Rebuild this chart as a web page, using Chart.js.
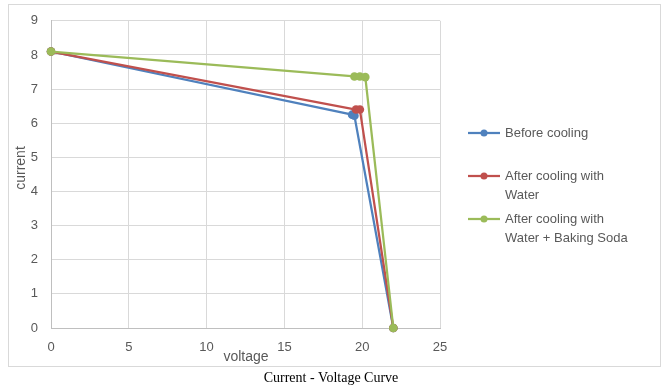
<!DOCTYPE html>
<html>
<head>
<meta charset="utf-8">
<script src="https://cdn.jsdelivr.net/npm/chart.js@4.4.1/dist/chart.umd.min.js"></script>
<style>
  html, body { margin: 0; padding: 0; background: #fff; }
  #wrap { position: relative; width: 667px; height: 391px; }
</style>
</head>
<body>
<div id="wrap"><canvas id="chartIV" width="667" height="391"></canvas></div>
<script>
// datos
const seriesNames = ['Before cooling', 'After cooling with\nWater', 'After cooling with\nWater + Baking Soda'];
const beforeX = [0, 19.35, 19.5, 22];
const beforeY = [8.1, 6.25, 6.22, 0];
const waterX = [0, 19.6, 19.85, 22];
const waterY = [8.1, 6.4, 6.4, 0];
const sodaX = [0, 19.5, 19.85, 20.2, 22];
const sodaY = [8.1, 7.37, 7.37, 7.35, 0];
const colores = ['#4F81BD', '#C0504D', '#9BBB59'];
const xTicks = [0, 5, 10, 15, 20, 25];
const yTicks = [0, 1, 2, 3, 4, 5, 6, 7, 8, 9];

const chartTitle = 'Current - Voltage Curve';
const xTitle = 'voltage';
const yTitle = 'current';

function puntos(xs, ys) {
    return xs.map((x, i) => ({ x: x, y: ys[i] }));
}

// la ultima serie queda encima, como en Excel
const datasets = [[beforeX, beforeY], [waterX, waterY], [sodaX, sodaY]].map((s, i) => ({
    label: seriesNames[i],
    data: puntos(s[0], s[1]),
    borderColor: colores[i],
    backgroundColor: colores[i],
    borderWidth: 2.25,
    pointRadius: 4.3,
    pointBorderWidth: 0,
    showLine: true,
    tension: 0,
    clip: false,
    order: 3 - i
}));

// marco, titulos y leyenda dibujados a mano
const decoracion = {
    id: 'decoracion',
    beforeDraw(chart) {
        const ctx = chart.ctx;
        ctx.save();
        ctx.fillStyle = '#fff';
        ctx.fillRect(0, 0, chart.width, chart.height);
        ctx.strokeStyle = '#d9d9d9';
        ctx.lineWidth = 1;
        ctx.strokeRect(8.5, 4.5, 652, 362);
        ctx.restore();
    },
    afterDraw(chart) {
        const ctx = chart.ctx;
        ctx.save();
        ctx.fillStyle = '#595959';
        ctx.font = '14px "Liberation Sans", Arial, sans-serif';
        ctx.textAlign = 'center';
        ctx.textBaseline = 'middle';
        ctx.fillText(xTitle, 246, 357);
        ctx.translate(21, 168);
        ctx.rotate(-Math.PI / 2);
        ctx.fillText(yTitle, 0, 0);
        ctx.restore();

        ctx.save();
        ctx.fillStyle = '#000';
        ctx.font = '14px "Liberation Serif", "Times New Roman", serif';
        ctx.textAlign = 'center';
        ctx.textBaseline = 'middle';
        ctx.fillText(chartTitle, 331, 378);
        ctx.restore();

        // leyenda
        const filas = [133, 176, 219];
        ctx.save();
        ctx.font = '13px "Liberation Sans", Arial, sans-serif';
        ctx.textBaseline = 'middle';
        chart.data.datasets.forEach((ds, i) => {
            const y = filas[i];
            ctx.strokeStyle = ds.borderColor;
            ctx.lineWidth = 2.25;
            ctx.beginPath();
            ctx.moveTo(468, y);
            ctx.lineTo(500, y);
            ctx.stroke();
            ctx.fillStyle = ds.borderColor;
            ctx.beginPath();
            ctx.arc(484, y, 3.5, 0, Math.PI * 2);
            ctx.fill();
            ctx.fillStyle = '#595959';
            ds.label.split('\n').forEach((t, k) => {
                ctx.fillText(t, 505, y + k * 19);
            });
        });
        ctx.restore();
    }
};

new Chart(document.getElementById('chartIV'), {
    type: 'scatter',
    data: { datasets: datasets },
    options: {
        responsive: false,
        animation: false,
        layout: { padding: { left: 8, top: 18, right: 227, bottom: 33 } },
        plugins: {
            legend: { display: false },
            tooltip: { enabled: false }
        },
        scales: {
            x: {
                type: 'linear',
                min: 0,
                max: 25,
                afterBuildTicks: s => { s.ticks = xTicks.map(v => ({ value: v })); },
                afterFit: s => { s.height = 30; },
                grid: { color: '#d9d9d9', drawTicks: false },
                border: { color: '#bfbfbf' },
                ticks: {
                    color: '#595959',
                    padding: 12,
                    font: { family: '"Liberation Sans", Arial, sans-serif', size: 13 },
                    maxRotation: 0
                }
            },
            y: {
                type: 'linear',
                min: 0,
                max: 9,
                afterBuildTicks: s => { s.ticks = yTicks.map(v => ({ value: v })); },
                afterFit: s => { s.width = 43; },
                grid: { color: '#d9d9d9', drawTicks: false },
                border: { color: '#bfbfbf' },
                ticks: {
                    color: '#595959',
                    padding: 13,
                    font: { family: '"Liberation Sans", Arial, sans-serif', size: 13 }
                }
            }
        }
    },
    plugins: [decoracion]
});
</script>
</body>
</html>
